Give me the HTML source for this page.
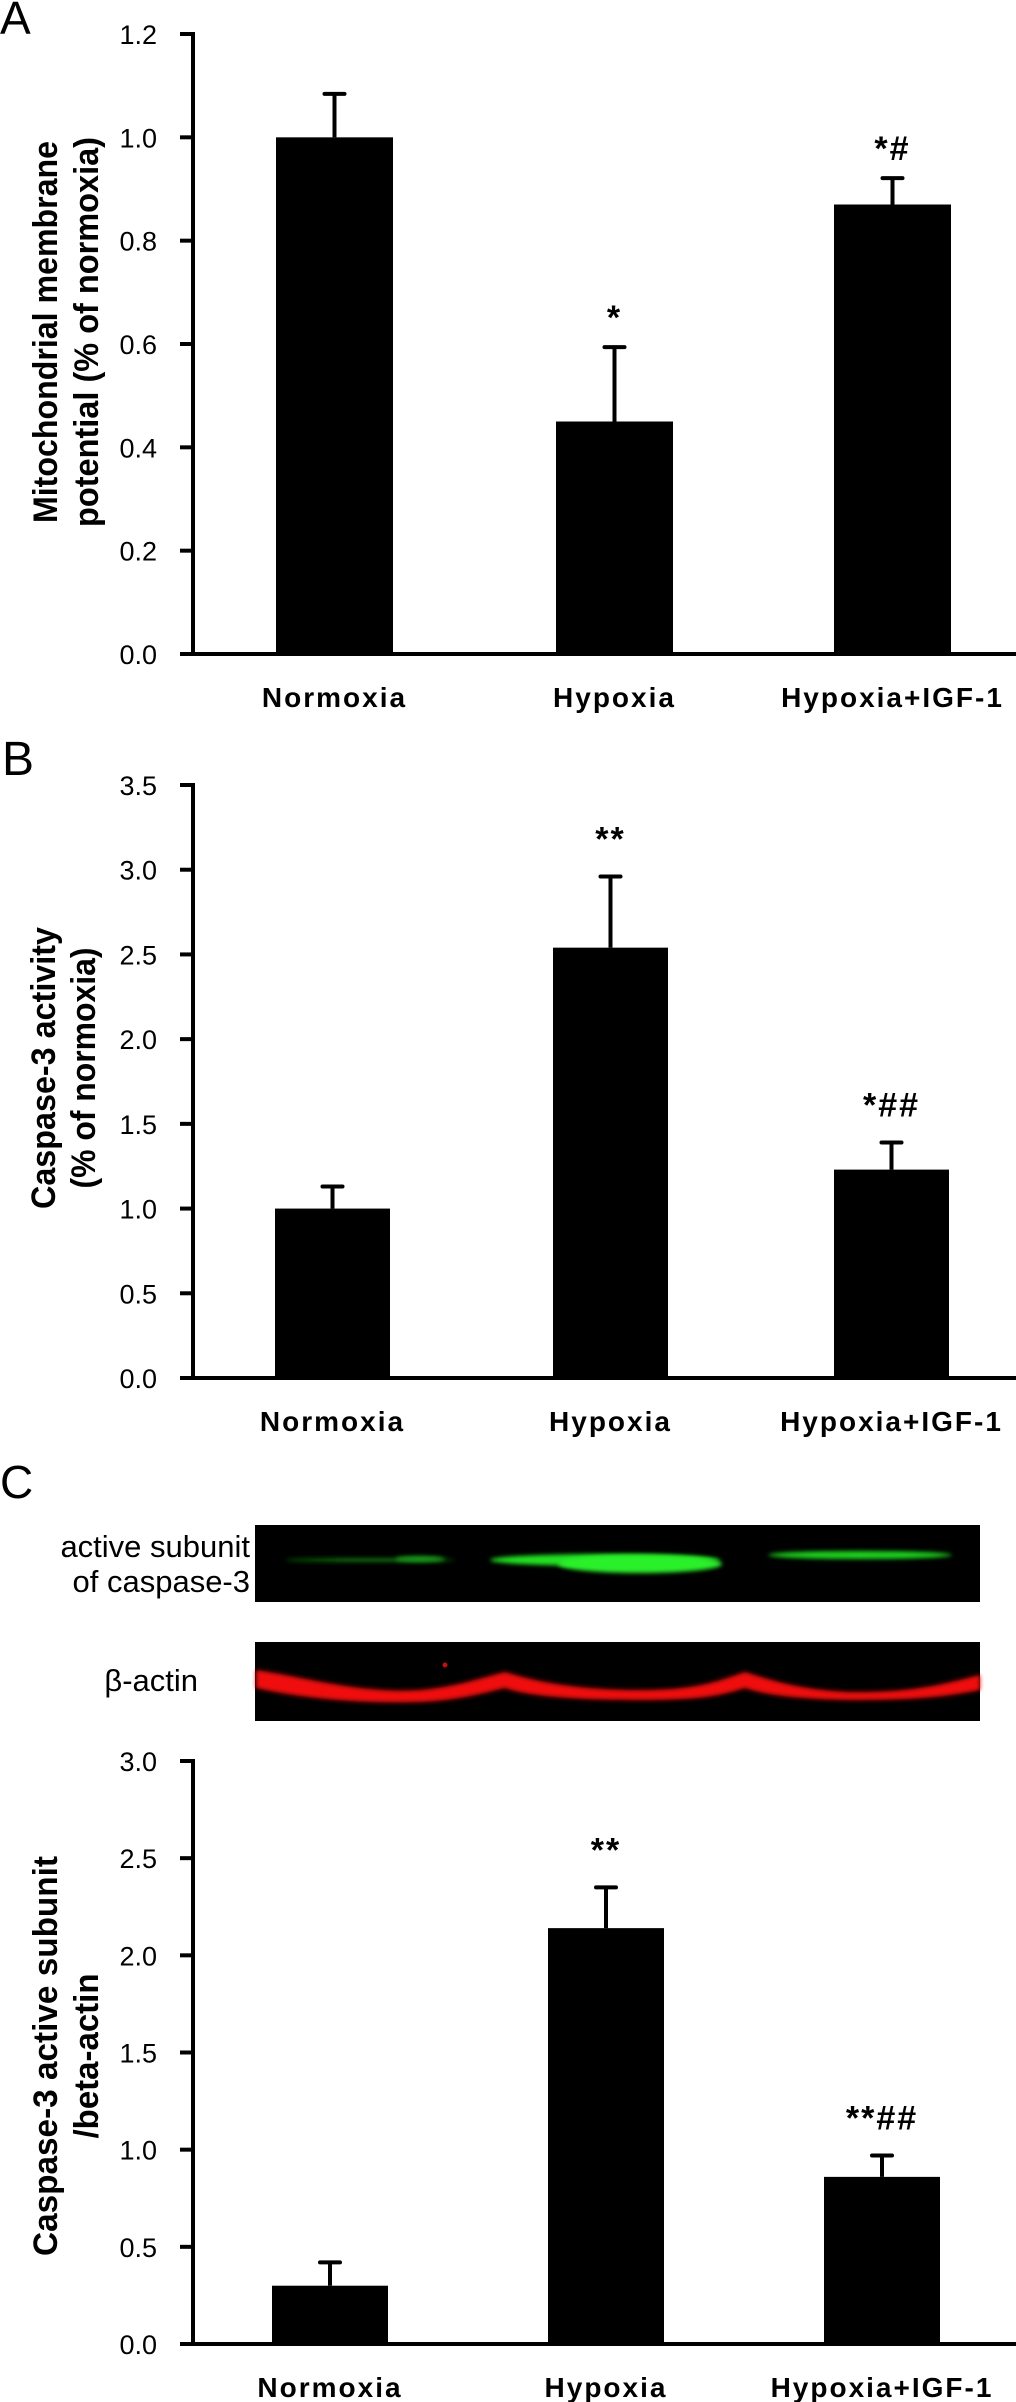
<!DOCTYPE html>
<html><head><meta charset="utf-8"><style>
html,body{margin:0;padding:0;background:#fff;}
svg{display:block;}
text{font-family:"Liberation Sans",Arial,sans-serif;fill:#000;}
</style></head><body>
<svg id="fig" width="1016" height="2402" viewBox="0 0 1016 2402" xmlns="http://www.w3.org/2000/svg">
<defs>
<filter id="blur3" x="-20%" y="-200%" width="140%" height="500%"><feGaussianBlur stdDeviation="3"/></filter>
<filter id="blur2" x="-20%" y="-200%" width="140%" height="500%"><feGaussianBlur stdDeviation="2"/></filter>
</defs>
<text x="0" y="34" font-size="46">A</text>
<text x="2" y="775" font-size="48">B</text>
<text x="0" y="1498" font-size="46">C</text>

<g>
<rect x="255" y="1525" width="725" height="77" fill="#000"/>
<ellipse cx="370" cy="1560" rx="85" ry="2" fill="#0a6a0a" filter="url(#blur2)"/>
<ellipse cx="420" cy="1559" rx="25" ry="3" fill="#1a9a1a" filter="url(#blur2)"/>
<ellipse cx="605" cy="1560" rx="115" ry="6" fill="#22e022" filter="url(#blur2)"/>
<ellipse cx="640" cy="1564" rx="82" ry="9" fill="#2af02a" filter="url(#blur2)"/>
<ellipse cx="860" cy="1555" rx="92" ry="4" fill="#1ed01e" filter="url(#blur2)"/>
<text x="250" y="1557" font-size="31" font-weight="500" text-anchor="end">active subunit</text>
<text x="250" y="1592" font-size="31" font-weight="500" text-anchor="end">of caspase-3</text>
<rect x="255" y="1642" width="725" height="79" fill="#000"/>
<path d="M256,1670 C300,1676 360,1694 420,1690 C460,1686 480,1678 505,1672 C520,1676 560,1690 640,1690 C700,1690 720,1680 745,1672 C760,1676 800,1692 860,1692 C920,1692 950,1682 980,1675 L980,1690 C950,1696 920,1700 860,1700 C800,1700 760,1694 745,1688 C720,1696 700,1700 640,1700 C560,1700 520,1694 505,1688 C480,1694 460,1700 420,1702 C360,1704 300,1698 256,1688 Z" fill="#f01010" filter="url(#blur2)"/>
<circle cx="445" cy="1665" r="2.5" fill="#c01010"/>
<text x="198" y="1691" font-size="31" font-weight="500" text-anchor="end">β-actin</text>
</g>
</svg>
<script>
// ---------- Chart A data ----------
const catsA = ["Normoxia","Hypoxia","Hypoxia+IGF-1"];
const valsA = [1.0, 0.45, 0.87];
const errsA = [1.084, 0.594, 0.921];
const ticksA = ["0.0","0.2","0.4","0.6","0.8","1.0","1.2"];
const tickValsA = [0,0.2,0.4,0.6,0.8,1.0,1.2];
const sigA = ["", "*", "*#"];
// ---------- Chart B data ----------
const catsB = ["Normoxia","Hypoxia","Hypoxia+IGF-1"];
const valsB = [1.0, 2.54, 1.23];
const errsB = [1.13, 2.96, 1.39];
const ticksB = ["0.0","0.5","1.0","1.5","2.0","2.5","3.0","3.5"];
const tickValsB = [0,0.5,1,1.5,2,2.5,3,3.5];
const sigB = ["", "**", "*##"];
// ---------- Chart C data ----------
const catsC = ["Normoxia","Hypoxia","Hypoxia+IGF-1"];
const valsC = [0.30, 2.14, 0.86];
const errsC = [0.42, 2.35, 0.97];
const ticksC = ["0.0","0.5","1.0","1.5","2.0","2.5","3.0"];
const tickValsC = [0,0.5,1,1.5,2,2.5,3];
const sigC = ["", "**", "**##"];

const NS = "http://www.w3.org/2000/svg";
const svg = document.getElementById("fig");
function mk(tag, attrs, parent){
  const e = document.createElementNS(NS, tag);
  for (const k in attrs) e.setAttribute(k, attrs[k]);
  (parent||svg).appendChild(e);
  return e;
}
function drawChart(cfg, cats, vals, errs, ticks, tickVals, sig){
  const g = mk("g", {});
  
  
  const y = v => cfg.y0 - (v - 0) / cfg.max * (cfg.y0 - cfg.yTop);
  const barX = [[cfg.bx[0], cfg.bw],[cfg.bx[1], cfg.bw],[cfg.bx[2], cfg.bw]];
  const ya = mk("line", {x1:193, y1:y(cfg.max)-2, x2:193, y2:cfg.y0+2, stroke:"#000","stroke-width":4}, g);
  
  
  const xa = mk("line", {x1:181, y1:cfg.y0, x2:1016, y2:cfg.y0, stroke:"#000","stroke-width":4}, g);
  
  
  tickVals.forEach((tv,i)=>{
    const ty = y(tv);
    const tk = mk("line", {x1:180, y1:ty, x2:193, y2:ty, stroke:"#000","stroke-width":4}, g);
    
    
    const tl = mk("text", {x:157, y:ty+10, "font-size":27, "text-anchor":"end"}, g);
    tl.textContent = ticks[i];
    
    
  });
  cats.forEach((c,i)=>{
    const x0 = barX[i][0], w = barX[i][1], cx = x0 + w/2;
    const b = mk("rect", {x:x0, y:y(vals[i]), width:w, height:cfg.y0 - y(vals[i]), fill:"#000"}, g);
    
    
    const el = mk("line", {x1:cx, y1:y(vals[i]), x2:cx, y2:y(errs[i]), stroke:"#000","stroke-width":4}, g);
    
    
    const ec = mk("line", {x1:cx-10, y1:y(errs[i]), x2:cx+10, y2:y(errs[i]), stroke:"#000","stroke-width":4,"stroke-linecap":"round"}, g);
    
    
    if (sig[i]) {
      const s = mk("text", {x:cx, y:y(errs[i]) - cfg.sigGap, "font-size":34, "font-weight":"bold", "text-anchor":"middle","letter-spacing":2}, g);
      s.textContent = sig[i];
      
      
    }
    const lb = mk("text", {x:cx, y:cfg.y0 + 53, "font-size":28, "font-weight":"bold", "text-anchor":"middle", "letter-spacing":2}, g);
    lb.textContent = c;
    
    
  });
  cfg.title.forEach((t,i)=>{
    const tx = mk("text", {x:0, y:0, "font-size":34, "font-weight":"bold", "text-anchor":"middle",
      transform:"translate(" + t.x + "," + cfg.tc + ") rotate(-90)", textLength:t.len, lengthAdjust:"spacingAndGlyphs"}, g);
    tx.textContent = t.s;
    
    
  });
}
drawChart({name:"chart-a-membrane-potential", y0:654, yTop:34, max:1.2, bx:[276,556,834], bw:117, sigGap:18, tc:332,
  title:[{s:"Mitochondrial membrane", x:57, len:382},{s:"potential (% of normoxia)", x:98, len:390}]},
  catsA, valsA, errsA, ticksA, tickValsA, sigA);
drawChart({name:"chart-b-caspase-activity", y0:1378, yTop:785, max:3.5, bx:[275,553,834], bw:115, sigGap:26, tc:1068,
  title:[{s:"Caspase-3 activity", x:55, len:282},{s:"(% of normoxia)", x:95, len:241}]},
  catsB, valsB, errsB, ticksB, tickValsB, sigB);
drawChart({name:"chart-c-caspase-blot-quant", y0:2344, yTop:1761, max:3.0, bx:[272,548,824], bw:116, sigGap:26, tc:2056,
  title:[{s:"Caspase-3 active subunit", x:57, len:400},{s:"/beta-actin", x:98, len:165}]},
  catsC, valsC, errsC, ticksC, tickValsC, sigC);
</script>
</body></html>
